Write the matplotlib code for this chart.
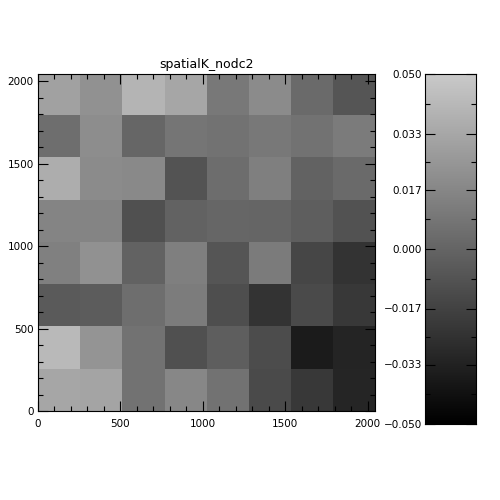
import numpy as np
import matplotlib
matplotlib.use("Agg")
import matplotlib.pyplot as plt
from matplotlib.colors import LinearSegmentedColormap
from matplotlib.ticker import MultipleLocator, FixedLocator

# cell values, rows listed from bottom (y=0) to top
row1 = [0.0325, 0.0315, 0.007, 0.0175, 0.007, -0.013, -0.022, -0.0315]
row2 = [0.042, 0.0235, 0.007, -0.010, -0.003, -0.012, -0.036, -0.032]
row3 = [-0.005, -0.004, 0.005, 0.012, -0.011, -0.0245, -0.013, -0.022]
row4 = [0.014, 0.022, -0.001, 0.013, -0.0075, 0.011, -0.015, -0.0245]
row5 = [0.016, 0.016, -0.010, -0.001, 0.001, 0.000, -0.003, -0.009]
row6 = [0.036, 0.019, 0.018, -0.0085, 0.004, 0.013, -0.001, 0.003]
row7 = [0.005, 0.020, 0.001, 0.0085, 0.007, 0.0095, 0.007, 0.011]
row8 = [0.030, 0.022, 0.0395, 0.0325, 0.0095, 0.019, 0.003, -0.0075]
cbar_ticks = [-0.050, -0.033, -0.017, 0.000, 0.017, 0.033, 0.050]
cbar_labels = ["\u22120.050", "\u22120.033", "\u22120.017", "0.000", "0.017", "0.033", "0.050"]

grid = np.array([row1, row2, row3, row4, row5, row6, row7, row8])
vmin, vmax = -0.05, 0.05
cmap = LinearSegmentedColormap.from_list("g", [(0, 0, 0), (0.79, 0.79, 0.79)])

fig = plt.figure(figsize=(5, 5), dpi=100)
ax = fig.add_axes([0.076, 0.178, 0.674, 0.674])
ax.imshow(grid, origin="lower", extent=[0, 2048, 0, 2048], cmap=cmap,
          vmin=vmin, vmax=vmax, interpolation="nearest", aspect="auto")
ax.set_xlim(0, 2045)
ax.set_ylim(0, 2045)
ax.xaxis.set_major_locator(MultipleLocator(500))
ax.xaxis.set_minor_locator(MultipleLocator(100))
ax.yaxis.set_major_locator(MultipleLocator(500))
ax.yaxis.set_minor_locator(MultipleLocator(100))
ax.tick_params(which="both", direction="in", top=True, right=True,
               labelsize=7.5, width=0.8)
ax.tick_params(which="major", length=7)
ax.tick_params(which="minor", length=3.5)
ax.tick_params(axis="x", pad=6)
ax.tick_params(axis="y", pad=3)
for s in ax.spines.values():
    s.set_linewidth(0.8)
ax.set_title("spatialK_nodc2", fontsize=9, pad=4)

cax = fig.add_axes([0.85, 0.152, 0.102, 0.70])
cvals = np.linspace(vmin, vmax, 256).reshape(-1, 1)
cax.imshow(cvals, origin="lower", extent=[0, 1, vmin, vmax], cmap=cmap,
           vmin=vmin, vmax=vmax, aspect="auto")
cax.set_xlim(0, 1)
cax.set_ylim(vmin, vmax)
cax.set_xticks([])
cax.yaxis.set_major_locator(FixedLocator(cbar_ticks))
cax.set_yticklabels(cbar_labels)
cax.yaxis.set_minor_locator(FixedLocator(
    [(a + b) / 2 for a, b in zip(cbar_ticks[:-1], cbar_ticks[1:])]))
cax.tick_params(which="both", direction="in", left=True, right=True,
                labelsize=7.5, width=0.8, pad=2)
cax.tick_params(which="major", length=7)
cax.tick_params(which="minor", length=3.5)
for s in cax.spines.values():
    s.set_linewidth(0.8)

fig.savefig("out.png", dpi=100)
